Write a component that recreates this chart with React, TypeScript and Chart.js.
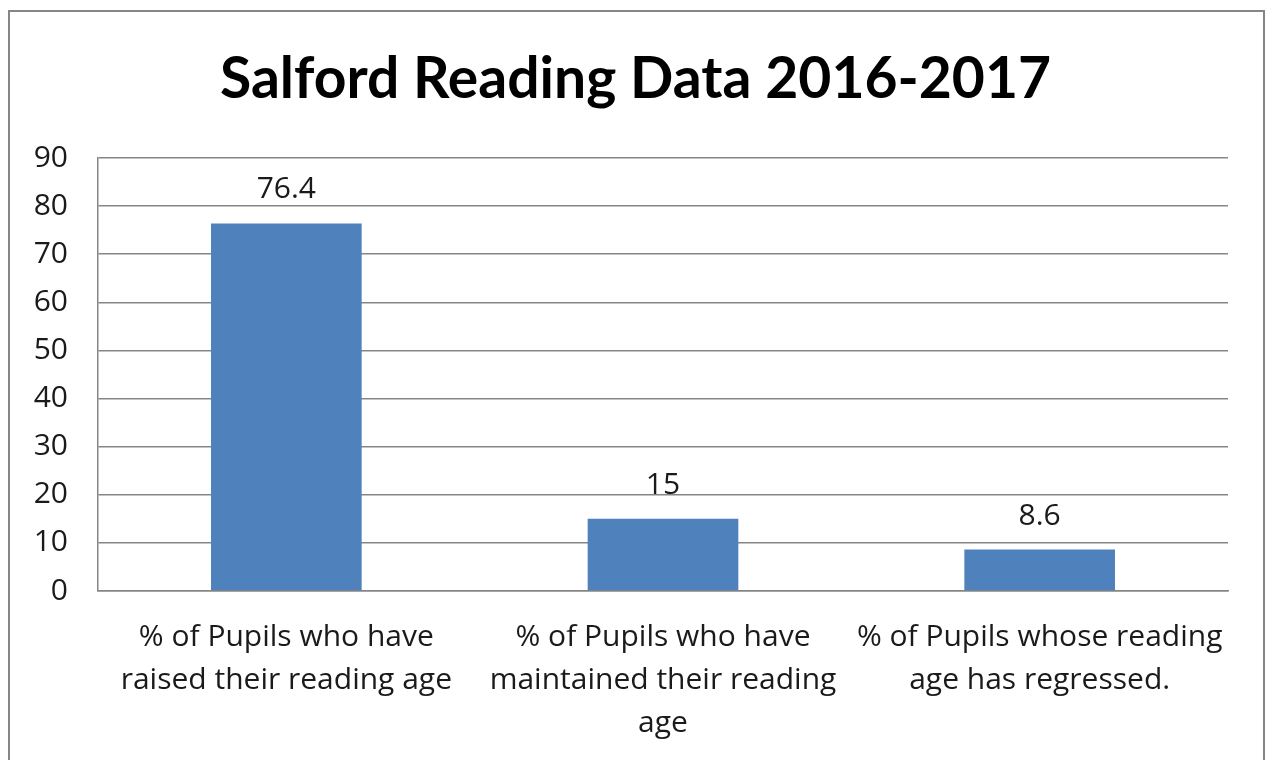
import React, { useEffect, useRef } from "react";
import { Chart, registerables } from "chart.js";

Chart.register(...registerables);

const TITLE = "Salford Reading Data 2016-2017";
const categories: string[][] = [
  ["% of Pupils who have", "raised their reading age"],
  ["% of Pupils who have", "maintained their reading", "age"],
  ["% of Pupils whose reading", "age has regressed."],
];
const values: number[] = [76.4, 15, 8.6];
const yMin = 0;
const yMax = 90;
const yStep = 10;

const TITLE_FONT = "Lato, 'Noto Sans', sans-serif";
const FONT = "'Open Sans', Lato, sans-serif";
const FS = 30;

const titlePlugin = {
  id: "centeredTitle",
  afterDraw(chart: any) {
    const ctx = chart.ctx;
    ctx.save();
    ctx.font = `bold 57px ${TITLE_FONT}`;
    ctx.fillStyle = "#000";
    ctx.textAlign = "center";
    ctx.textBaseline = "alphabetic";
    ctx.fillText(TITLE, chart.width / 2 - 1, 86);
    ctx.restore();
  },
};

const dataLabels = {
  id: "dataLabels",
  afterDatasetsDraw(chart: any) {
    const ctx = chart.ctx;
    const meta = chart.getDatasetMeta(0);
    ctx.save();
    ctx.font = `${FS}px ${FONT}`;
    ctx.fillStyle = "#1a1a1a";
    ctx.textAlign = "center";
    ctx.textBaseline = "alphabetic";
    meta.data.forEach((bar: any, i: number) => {
      ctx.fillText(String(values[i]), bar.x, bar.y - 25);
    });
    ctx.restore();
  },
};

export default function App() {
  const ref = useRef<HTMLCanvasElement | null>(null);
  useEffect(() => {
    if (!ref.current) return;
    document.body.style.overflow = "hidden";
    const chart = new Chart(ref.current, {
      type: "bar",
      data: {
        labels: categories,
        datasets: [
          {
            data: values,
            backgroundColor: "#4F81BD",
            borderWidth: 0,
            categoryPercentage: 1,
            barPercentage: 0.4,
          },
        ],
      },
      options: {
        animation: false,
        responsive: false,
        maintainAspectRatio: false,
        layout: { padding: { left: 0, right: 35, top: 146, bottom: 0 } },
        plugins: {
          legend: { display: false },
          tooltip: { enabled: false },
          title: { display: false },
        },
        scales: {
          x: {
            grid: { display: false, drawTicks: false },
            border: { display: true, color: "#868686", width: 1.5 },
            ticks: {
              color: "#1a1a1a",
              font: { family: FONT, size: FS, lineHeight: 1.43 },
              padding: 25,
              autoSkip: false,
              maxRotation: 0,
              minRotation: 0,
            },
            afterFit(scale: any) {
              scale.height = 169;
            },
          },
          y: {
            min: yMin,
            max: yMax,
            ticks: {
              stepSize: yStep,
              color: "#1a1a1a",
              font: { family: FONT, size: FS },
              padding: 30,
            },
            grid: { color: "#868686", lineWidth: 1.5, drawTicks: false },
            border: { display: true, color: "#868686", width: 1.5 },
            afterFit(scale: any) {
              scale.width = 88;
            },
          },
        },
      },
      plugins: [dataLabels, titlePlugin],
    });
    return () => chart.destroy();
  }, []);

  return (
    <div
      style={{
        position: "absolute",
        left: 8,
        top: 10,
        width: 1257,
        height: 750,
        boxSizing: "border-box",
        borderTop: "2px solid #868686",
        borderLeft: "2px solid #868686",
        borderRight: "2px solid #868686",
        background: "#fff",
      }}
    >
      <canvas ref={ref} width={1253} height={748} style={{ display: "block" }} />
    </div>
  );
}
